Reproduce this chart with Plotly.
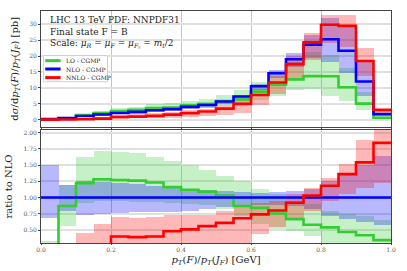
import plotly.graph_objects as go

# ---- data ----
bin_edges = [0.0, 0.05, 0.10, 0.15, 0.20, 0.25, 0.30, 0.35, 0.40, 0.45, 0.50,
             0.55, 0.60, 0.65, 0.70, 0.75, 0.80, 0.85, 0.90, 0.95, 1.0]

# NLO central value [pb]
nlo = [0.15, 0.5, 1.15, 1.6, 2.1, 2.45, 2.95, 3.3, 4.0, 4.6,
       5.7, 7.3, 10.5, 14.6, 19.0, 23.6, 25.3, 21.7, 12.0, 1.7]

# ratios to NLO central
lo_ratio = [0.20, 0.87, 1.22, 1.28, 1.27, 1.26, 1.23, 1.16, 1.12, 1.09,
            1.03, 0.87, 0.84, 0.755, 0.667, 0.58, 0.54, 0.47, 0.42, 0.345]
nnlo_ratio = [0.0, 0.05, 0.10, 0.20, 0.40, 0.39, 0.40, 0.48, 0.51, 0.56,
              0.61, 0.68, 0.74, 0.80, 0.92, 1.03, 1.18, 1.36, 1.54, 1.84]

lo_band_lo = [0.0, 0.57, 0.92, 0.95, 0.95, 0.94, 0.93, 0.92, 0.90, 0.88,
              0.82, 0.72, 0.60, 0.52, 0.49, 0.41, 0.30, 0.27, 0.25, 0.22]
lo_band_hi = [0.34, 1.20, 1.62, 1.72, 1.70, 1.68, 1.63, 1.56, 1.50, 1.43,
              1.34, 1.26, 1.14, 1.05, 0.95, 0.90, 0.80, 0.75, 0.72, 0.65]
nlo_band_lo = [0.69, 0.80, 0.73, 0.75, 0.77, 0.78, 0.78, 0.78, 0.80, 0.82,
               0.85, 0.87, 0.88, 0.89, 0.87, 0.82, 0.72, 0.67, 0.62, 0.58]
nlo_band_hi = [1.50, 1.20, 1.25, 1.24, 1.22, 1.21, 1.18, 1.15, 1.13, 1.12,
               1.10, 1.08, 1.07, 1.08, 1.10, 1.13, 1.26, 1.35, 1.50, 1.64]
nnlo_band_lo = [0.0, 0.0, 0.0, 0.05, 0.15, 0.15, 0.15, 0.20, 0.20, 0.22,
                0.26, 0.30, 0.44, 0.55, 0.66, 0.80, 0.95, 1.05, 1.15, 1.22]
nnlo_band_hi = [0.10, 0.20, 0.45, 0.59, 0.70, 0.69, 0.70, 0.73, 0.73, 0.74,
                0.80, 0.87, 0.92, 0.95, 1.05, 1.15, 1.30, 1.52, 1.88, 2.05]

x_ticks = [0.0, 0.2, 0.4, 0.6, 0.8, 1.0]
x_tick_labels = ["0.0", "0.2", "0.4", "0.6", "0.8", "1.0"]
y_ticks_top = [0, 5, 10, 15, 20, 25, 30]
y_ticks_ratio = [0.50, 0.75, 1.00, 1.25, 1.50, 1.75, 2.00]
y_tick_labels_ratio = ["0.50", "0.75", "1.00", "1.25", "1.50", "1.75", "2.00"]

series = [
    ("LO - CGMP", lo_ratio, lo_band_lo, lo_band_hi, "#33cc33", "rgba(51,204,51,0.28)"),
    ("NLO - CGMP", [1.0] * len(nlo), nlo_band_lo, nlo_band_hi, "#0000ff", "rgba(0,0,255,0.28)"),
    ("NNLO - CGMP", nnlo_ratio, nnlo_band_lo, nnlo_band_hi, "#ff0000", "rgba(255,0,0,0.28)"),
]

centers = [(a + b) / 2 for a, b in zip(bin_edges[:-1], bin_edges[1:])]
width = [b - a for a, b in zip(bin_edges[:-1], bin_edges[1:])]

fig = go.Figure()

# uncertainty bands
for name, r, blo, bhi, col, fcol in series:
    top_lo = [l * n for l, n in zip(blo, nlo)]
    top_hi = [h * n for h, n in zip(bhi, nlo)]
    fig.add_trace(go.Bar(x=centers, y=[h - l for h, l in zip(top_hi, top_lo)], base=top_lo,
                         width=width, marker=dict(color=fcol, line=dict(width=0)),
                         showlegend=False, hoverinfo="skip", xaxis="x", yaxis="y"))
    fig.add_trace(go.Bar(x=centers, y=[h - l for h, l in zip(bhi, blo)], base=blo,
                         width=width, marker=dict(color=fcol, line=dict(width=0)),
                         showlegend=False, hoverinfo="skip", xaxis="x2", yaxis="y2"))

# central lines
for name, r, blo, bhi, col, fcol in series:
    top_val = [v * n for v, n in zip(r, nlo)]
    fig.add_trace(go.Scatter(x=bin_edges, y=top_val + [top_val[-1]], mode="lines",
                             line=dict(color=col, width=2.6, shape="hv"), name=name,
                             showlegend=False, xaxis="x", yaxis="y"))
    fig.add_trace(go.Scatter(x=bin_edges, y=list(r) + [r[-1]], mode="lines",
                             line=dict(color=col, width=2.6, shape="hv"), name=name,
                             showlegend=False, xaxis="x2", yaxis="y2"))

serif = "DejaVu Serif"
tickfont = dict(family=serif, size=6, color="#555555")
axis_common = dict(showline=True, linecolor="#444444", linewidth=1, mirror=True,
                   zeroline=False, automargin=False)

fig.update_layout(
    width=407, height=271,
    margin=dict(l=41, r=16, t=11, b=28, autoexpand=False),
    paper_bgcolor="white", plot_bgcolor="white",
    barmode="overlay", bargap=0,
    showlegend=False,
    xaxis=dict(domain=[0, 1], range=[0, 1], tickvals=x_ticks, showticklabels=False,
               ticks="outside", ticklen=2, tickcolor="#444444",
               showgrid=True, gridcolor="#c4c4c4", gridwidth=1, anchor="y", **axis_common),
    yaxis=dict(domain=[0.5017, 1], range=[-2.2, 34.2], tickvals=y_ticks_top,
               ticks="outside", ticklen=2, tickcolor="#444444",
               tickfont=tickfont, showgrid=True, gridcolor="#e0e0e0", gridwidth=1.6,
               title=dict(text="d<i>σ</i>/d<i>p</i><sub><i>T</i></sub>(<i>F</i>)/<i>p</i><sub><i>T</i></sub>(<i>J</i><sub><i>F</i></sub>) [pb]",
                          font=dict(family=serif, size=10, color="#222222"), standoff=8),
               anchor="x", **axis_common),
    xaxis2=dict(domain=[0, 1], range=[0, 1], tickvals=x_ticks, ticktext=x_tick_labels,
                tickfont=tickfont, ticks="outside", ticklen=1, tickcolor="#444444",
                showgrid=True, gridcolor="#c4c4c4", gridwidth=1, anchor="y2",
                title=dict(text="<i>p</i><sub><i>T</i></sub>(<i>F</i>)/<i>p</i><sub><i>T</i></sub>(<i>J</i><sub><i>F</i></sub>) [GeV]",
                           font=dict(family=serif, size=10, color="#222222"), standoff=3),
                **axis_common),
    yaxis2=dict(domain=[0, 0.4875], range=[0.30, 2.04], tickvals=y_ticks_ratio,
                ticktext=y_tick_labels_ratio, ticks="outside", ticklen=2, tickcolor="#444444",
                tickfont=tickfont, showgrid=True, gridcolor="#e0e0e0", gridwidth=1.6,
                title=dict(text="ratio to NLO", font=dict(family=serif, size=10, color="#222222"),
                           standoff=8),
                anchor="x2", **axis_common),
)

# text box in the upper panel
info_lines = [
    ("LHC 13 TeV PDF: NNPDF31", 31.3),
    ("Final state F = B", 27.5),
    ("Scale: <i>μ</i><sub><i>R</i></sub> = <i>μ</i><sub><i>F</i></sub> = <i>μ</i><sub><i>F<sub>r</sub></i></sub> = <i>m</i><sub><i>t</i></sub>/2", 23.7),
]
for txt, yv in info_lines:
    fig.add_annotation(x=0.02, y=yv, xref="x", yref="y", text=txt, showarrow=False,
                       xanchor="left", yanchor="middle",
                       font=dict(family=serif, size=9, color="#222222"))

# legend box (drawn compactly, like the reference)
fig.add_shape(type="rect", xref="paper", yref="paper", x0=0.007, x1=0.19, y0=0.695, y1=0.808,
              line=dict(color="#d0d0d0", width=1), fillcolor="rgba(255,255,255,0.85)", layer="above")
legend_y = [0.786, 0.750, 0.713]
for (name, r, blo, bhi, col, fcol), ly in zip(series, legend_y):
    fig.add_shape(type="line", xref="paper", yref="paper", x0=0.012, x1=0.056, y0=ly, y1=ly,
                  line=dict(color=col, width=3), layer="above")
    fig.add_annotation(x=0.066, y=ly, xref="paper", yref="paper", text=name, showarrow=False,
                       xanchor="left", yanchor="middle",
                       font=dict(family=serif, size=6, color="#222222"))

fig.write_html("out.html",
               config={"displayModeBar": False},
               post_script="document.body.style.margin='0';document.body.style.padding='0';"
                           "document.body.style.overflow='hidden';")
